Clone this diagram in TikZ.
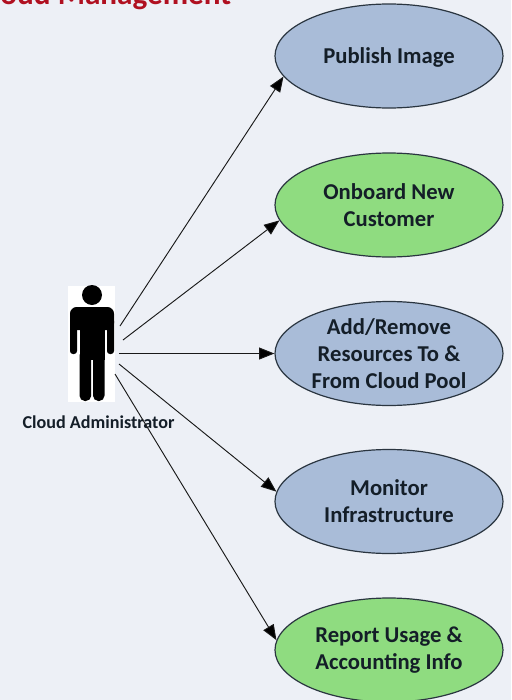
\documentclass[tikz,border=0pt]{standalone}
\usepackage{fontspec}
\setmainfont{Carlito}
\usetikzlibrary{shapes.geometric,arrows.meta}
\definecolor{bg}{HTML}{EDF0F6}
\definecolor{bluef}{HTML}{A9BCD8}
\definecolor{greenf}{HTML}{8FDC80}
\definecolor{edge}{HTML}{2A3540}
\definecolor{txt}{HTML}{141E28}
\definecolor{titlered}{HTML}{B01020}
\tikzset{
  x=0.75pt,y=-0.75pt,
  usecase/.style={ellipse,draw=edge,line width=0.9pt,minimum width=171pt,minimum height=78pt,inner sep=0pt,align=center},
  bluecase/.style={usecase,fill=bluef},
  greencase/.style={usecase,fill=greenf},
  casetext/.style={inner sep=0pt,align=center,text=txt,font=\fontsize{17}{20.25}\selectfont\bfseries},
  link/.style={draw=black!90,line width=0.7pt,-{Triangle[length=11.5pt,width=9pt,fill=black]}},
}
\begin{document}
\begin{tikzpicture}
\useasboundingbox (0,0) rectangle (511,700);
\fill[bg] (0,0) rectangle (511,700);
\begin{scope}
\clip (0,0) rectangle (511,700);
\node[anchor=base west,inner sep=0pt,text=titlered,font=\fontsize{23.4}{26}\selectfont\bfseries] (title) at (-24,4) {Cloud Management};
\node[bluecase] (e1) at (389,56) {};
\node[greencase] (e2) at (389,205) {};
\node[bluecase] (e3) at (389,353.5) {};
\node[bluecase] (e4) at (389,501.5) {};
\node[greencase] (e5) at (389,650) {};
\end{scope}
\node[casetext] (t1) at (389,57) {Publish Image};
\node[casetext] (t2) at (389,205.5) {Onboard New\\Customer};
\node[casetext] (t3) at (389,353.5) {Add/Remove\\Resources To \&\\From Cloud Pool};
\node[casetext] (t4) at (389,501.5) {Monitor\\Infrastructure};
\node[casetext] (t5) at (389,650) {Report Usage \&\\Accounting Info};
% actor
\node[fill=white,inner sep=0pt,minimum width=35.25pt,minimum height=87pt] (actor) at (91.5,344) {};
\fill[black] (92,295) circle (7.5pt);
\fill[black,rounded corners=5pt] (70,330) -- (70,307) -- (114,307) -- (114,330) -- cycle;
\fill[black,rounded corners=2.2pt] (70,318) rectangle (77,354);
\fill[black,rounded corners=2.2pt] (107,318) rectangle (114,354);
\fill[black] (79.5,315) rectangle (104.5,360);
\fill[black,rounded corners=4pt] (79.5,350) rectangle (91.2,401);
\fill[black,rounded corners=4pt] (93,350) rectangle (104.5,401);
\fill[black] (91,340) rectangle (93.2,353);
\node[inner sep=0pt,text=txt,font=\fontsize{13.6}{15}\selectfont\bfseries] (label) at (98.5,422) {Cloud Administrator};
\coordinate (s1) at (120,326);
\coordinate (s2) at (123,340);
\coordinate (s3) at (119,353.5);
\coordinate (s4) at (119,364);
\coordinate (s5) at (115,374);
\draw[link] (s1) -- (e1.191);
\draw[link] (s2) -- (e2.188.8);
\draw[link] (s3) -- (e3.180);
\draw[link] (s4) -- (e4.175);
\draw[link] (s5) -- (e5.175.5);
\end{tikzpicture}
\end{document}
